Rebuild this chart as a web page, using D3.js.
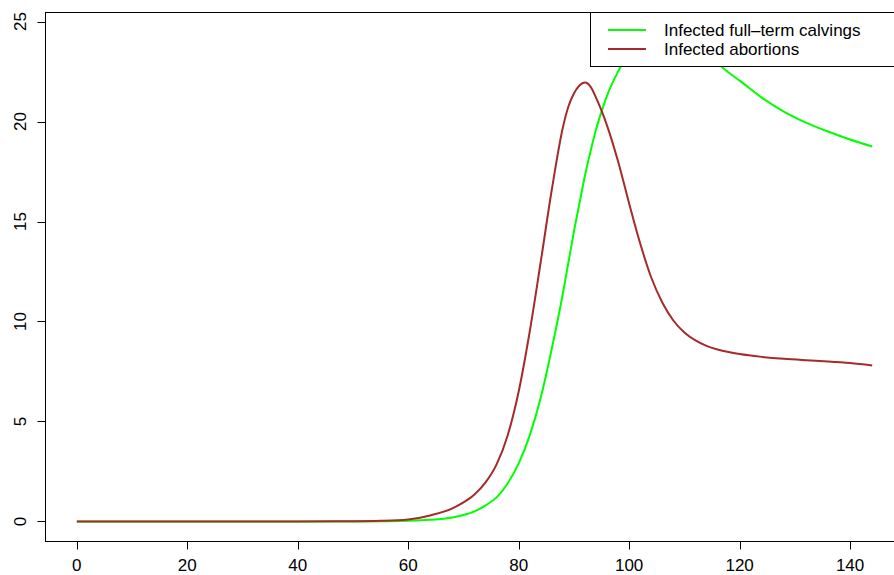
<!DOCTYPE html>
<html>
<head>
<meta charset="utf-8">
<script src="https://cdn.jsdelivr.net/npm/d3@7"></script>
<style>
  body { margin: 0; background: #fff; }
  svg { display: block; font-family: "Liberation Sans", Arial, sans-serif; }
</style>
</head>
<body>
<script>
// days since start
var days = [0, 10, 20, 30, 40, 50, 55, 60, 64, 68, 70, 72, 74, 76, 78, 80, 82, 84, 86, 88,
  89, 90, 91, 92, 93, 94, 95, 96, 98, 100, 102, 104, 106, 108, 110, 112, 114, 116, 118,
  120, 124, 128, 132, 136, 140, 144];
var fullTerm = [0, 0, 0, 0, 0, 0, 0.01, 0.03, 0.08, 0.2, 0.32, 0.5, 0.8, 1.2, 1.9, 2.9,
  4.3, 6.2, 8.65, 11.4, 12.95, 14.5, 15.9, 17.3, 18.5, 19.6, 20.5, 21.3, 22.5, 23.45,
  24.05, 24.4, 24.5, 24.4, 24.1, 23.7, 23.3, 22.9, 22.45, 22.05, 21.2, 20.5, 19.95, 19.5,
  19.1, 18.75];
var abortions = [0, 0, 0, 0, 0, 0.01, 0.03, 0.1, 0.3, 0.65, 0.95, 1.35, 1.95, 2.85, 4.3,
  6.5, 9.5, 13.0, 16.6, 19.7, 20.75, 21.4, 21.8, 21.95, 21.75, 21.2, 20.55, 19.8, 18.0,
  15.9, 13.9, 12.2, 10.95, 10.05, 9.45, 9.05, 8.78, 8.6, 8.47, 8.37, 8.23, 8.13, 8.06,
  8.0, 7.92, 7.8];
var xTicks = [0, 20, 40, 60, 80, 100, 120, 140];
var yTicks = [0, 5, 10, 15, 20, 25];
var seriesNames = ["Infected full\u2013term calvings", "Infected abortions"];
var seriesColors = ["#00ff00", "#a52a2a"];

var W = 894, H = 575;
var pl = 45, pr = 904, pt = 12, pb = 541;

var svg = d3.select("body").append("svg")
  .attr("width", W)
  .attr("height", H);

// R style: 4% padding around data range
var x = d3.scaleLinear().domain([-5.76, 149.76]).range([pl, pr]);
var y = d3.scaleLinear().domain([-0.98, 25.48]).range([pb, pt]);

var line = d3.line()
  .x(function (d) { return x(d[0]); })
  .y(function (d) { return y(d[1]); })
  .curve(d3.curveMonotoneX);

[fullTerm, abortions].forEach(function (vals, i) {
  svg.append("path")
    .datum(days.map(function (t, j) { return [t, vals[j]]; }))
    .attr("d", line)
    .attr("fill", "none")
    .attr("stroke", seriesColors[i])
    .attr("stroke-width", 2);
});

// plot box
svg.append("rect")
  .attr("x", pl + 0.5).attr("y", pt + 0.5)
  .attr("width", pr - pl).attr("height", pb - pt)
  .attr("fill", "none").attr("stroke", "#000").attr("stroke-width", 1);

// x axis
var xa = svg.append("g").attr("transform", "translate(0," + (pb + 0.5) + ")");
xa.selectAll("line").data(xTicks).enter().append("line")
  .attr("x1", function (d) { return Math.round(x(d)) + 0.5; })
  .attr("x2", function (d) { return Math.round(x(d)) + 0.5; })
  .attr("y1", 0).attr("y2", 8)
  .attr("stroke", "#000");
xa.selectAll("text").data(xTicks).enter().append("text")
  .attr("x", function (d) { return x(d); })
  .attr("y", 29)
  .attr("text-anchor", "middle")
  .attr("font-size", 17)
  .text(function (d) { return d; });

// y axis
var ya = svg.append("g").attr("transform", "translate(" + (pl + 0.5) + ",0)");
ya.selectAll("line").data(yTicks).enter().append("line")
  .attr("y1", function (d) { return Math.round(y(d)) + 0.5; })
  .attr("y2", function (d) { return Math.round(y(d)) + 0.5; })
  .attr("x1", 0).attr("x2", -8)
  .attr("stroke", "#000");
ya.selectAll("text").data(yTicks).enter().append("text")
  .attr("transform", function (d) { return "translate(-20," + y(d) + ") rotate(-90)"; })
  .attr("text-anchor", "middle")
  .attr("font-size", 17)
  .text(function (d) { return d; });

// legend (top right, drawn over the lines)
var lg = svg.append("g");
lg.append("rect")
  .attr("x", 590.5).attr("y", pt + 0.5)
  .attr("width", pr - 590).attr("height", 54)
  .attr("fill", "#fff").attr("stroke", "#000");
seriesNames.forEach(function (name, i) {
  var ly = 30 + i * 19;
  lg.append("line")
    .attr("x1", 608).attr("x2", 646)
    .attr("y1", ly).attr("y2", ly)
    .attr("stroke", seriesColors[i]).attr("stroke-width", 2);
  lg.append("text")
    .attr("x", 664).attr("y", ly + 6)
    .attr("font-size", 17)
    .text(name);
});
</script>
</body>
</html>
